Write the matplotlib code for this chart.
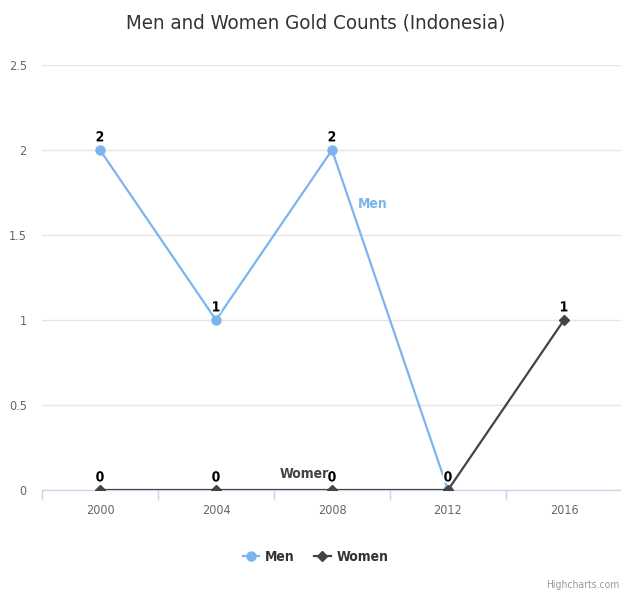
import matplotlib
matplotlib.use("Agg")
import matplotlib.pyplot as plt
import matplotlib.patheffects as pe
from matplotlib.lines import Line2D
import numpy as np

years = ["2000", "2004", "2008", "2012", "2016"]
men = [2, 1, 2, 0, np.nan]
women = [0, 0, 0, 0, 1]
y_ticks = [0, 0.5, 1, 1.5, 2, 2.5]

MEN_COLOR = "#7cb5ec"
WOMEN_COLOR = "#434348"

plt.rcParams["font.family"] = ["DejaVu Sans"]
plt.rcParams["font.stretch"] = "condensed"

W, H = 621, 592
fig = plt.figure(figsize=(W / 100, H / 100), dpi=100)
ax = fig.add_axes([42 / W, 1 - 490 / H, 580 / W, 425 / H])

x = np.arange(len(years))
ax.plot(x, men, color=MEN_COLOR, lw=1.6, marker="o", ms=6.5, zorder=3)
ax.plot(x, women, color=WOMEN_COLOR, lw=1.6, marker="D", ms=5, zorder=4)

outline = [pe.withStroke(linewidth=2.5, foreground="white")]
labelled = set()
for series in (men, women):
    for xi, v in zip(x, series):
        if np.isnan(v) or (xi, v) in labelled:
            continue
        labelled.add((xi, v))
        ax.annotate(f"{v:g}", (xi, v), xytext=(0, 4), textcoords="offset points",
                    ha="center", va="bottom", fontsize=10, fontweight="bold",
                    color="black", path_effects=outline, zorder=6)

# series labels drawn next to their lines
ax.text(2.35, 1.68, "Men", color=MEN_COLOR, fontsize=10, fontweight="bold",
        ha="center", va="center", zorder=5)
ax.text(1.77, 0.094, "Women", color=WOMEN_COLOR, fontsize=10, fontweight="bold",
        ha="center", va="center", zorder=5)

ax.set_xlim(-0.5, len(years) - 0.5)
ax.set_ylim(0, 2.5)
ax.set_yticks(y_ticks)
ax.set_yticklabels([f"{t:g}" for t in y_ticks])
ax.set_xticks(x)
ax.set_xticklabels(years)
ax.set_xticks(np.arange(len(years) + 1) - 0.5, minor=True)

ax.grid(axis="y", color="#e6e6e6", lw=1)
ax.set_axisbelow(True)
for side in ("top", "right", "left"):
    ax.spines[side].set_visible(False)
ax.spines["bottom"].set_color("#ccd6eb")
ax.spines["bottom"].set_linewidth(1)

ax.tick_params(axis="y", length=0, pad=11, labelsize=9, labelcolor="#666666")
ax.tick_params(axis="x", which="major", length=0, pad=10, labelsize=9,
               labelcolor="#666666")
ax.tick_params(axis="x", which="minor", length=7, color="#ccd6eb", width=1)

fig.text(316 / W, 1 - 23 / H, "Men and Women Gold Counts (Indonesia)",
         ha="center", va="center", fontsize=14.7, color="#333333")

handles = [
    Line2D([], [], color=MEN_COLOR, lw=1.6, marker="o", ms=6.5),
    Line2D([], [], color=WOMEN_COLOR, lw=1.6, marker="D", ms=5),
]
leg = fig.legend(handles, ["Men", "Women"], loc="center", ncol=2,
                 bbox_to_anchor=(0.508, 1 - 557 / H), frameon=False,
                 handlelength=1.2, handletextpad=0.4, columnspacing=1.4,
                 prop={"size": 10, "weight": "bold"})
for t in leg.get_texts():
    t.set_color("#333333")

fig.text(619 / W, 1 - 585 / H, "Highcharts.com", ha="right", va="center",
         fontsize=7.5, color="#999999")

fig.savefig("out.png", dpi=100)
